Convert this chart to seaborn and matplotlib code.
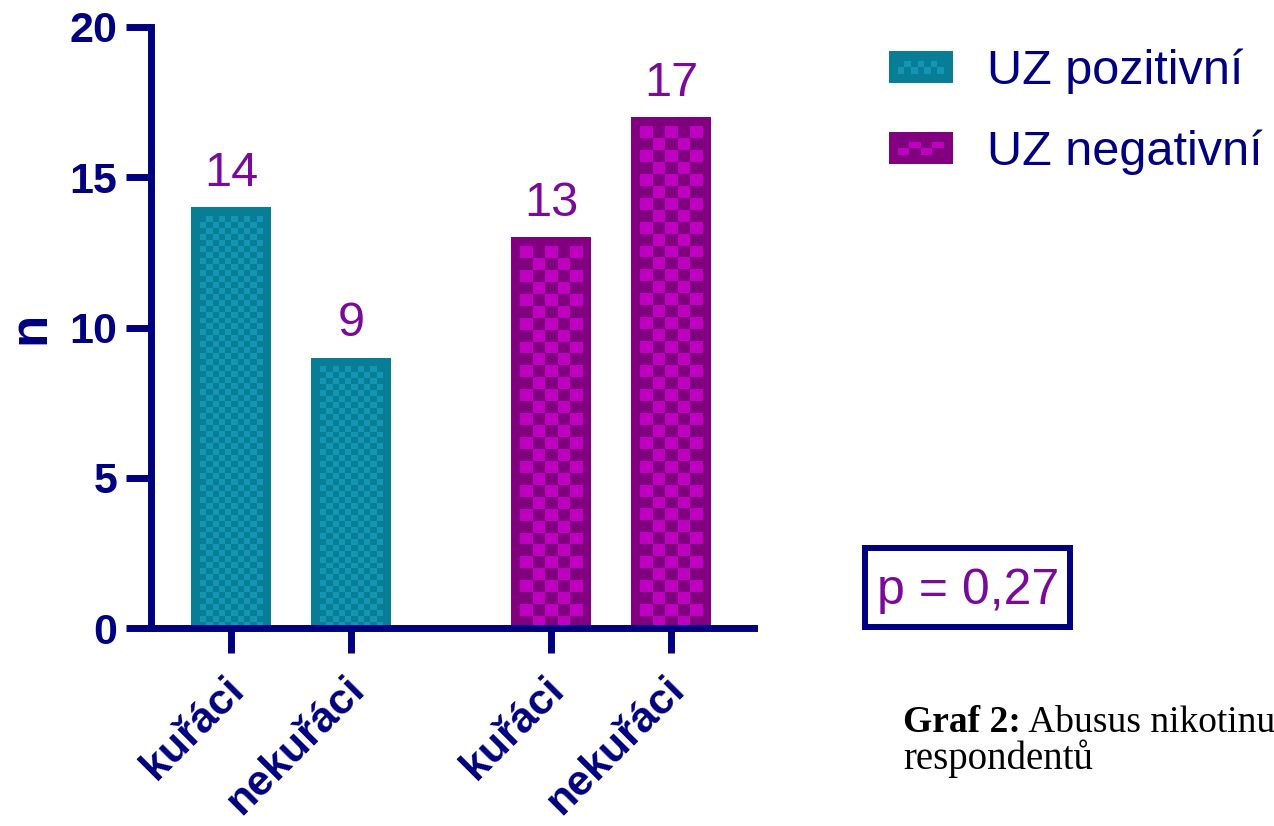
import matplotlib
matplotlib.use("Agg")
import matplotlib.pyplot as plt
from matplotlib.colors import ListedColormap
from matplotlib.legend_handler import HandlerBase
from matplotlib.patches import Patch, Rectangle
from matplotlib.transforms import ScaledTranslation
import numpy as np
import pandas as pd
import seaborn as sns

# --- data -----------------------------------------------------------------
groups = ["UZ pozitivní", "UZ pozitivní", "UZ negativní", "UZ negativní"]
smoking = ["kuřáci", "nekuřáci", "kuřáci", "nekuřáci"]
counts = [14, 9, 13, 17]
group_order = ["UZ pozitivní", "UZ negativní"]
smoking_order = ["kuřáci", "nekuřáci"]
y_ticks = [0, 5, 10, 15, 20]
p_text = "p = 0,27"
caption_bold = "Graf 2:"
caption_rest = " Abusus nikotinu"
caption_line2 = "respondentů"

# --- style ----------------------------------------------------------------
NAVY = "#000080"
LABEL_PURPLE = "#7A0A9A"
DARK = {"UZ pozitivní": "#087D96", "UZ negativní": "#800080"}
LIGHT = {"UZ pozitivní": "#1296B4", "UZ negativní": "#C000C0"}
CELL_PX = {"UZ pozitivní": 6, "UZ negativní": 12}   # checker square size
LEGEND_COLS = {"UZ pozitivní": 7, "UZ negativní": 4}
FRAME_PX = 9                                        # dark frame inside bars
W, H = 1274, 826


def fx(px):
    return px / W


def fy(py):
    return 1 - py / H


class CheckerHandler(HandlerBase):
    """Legend key: dark block with a two-row checker strip inside."""

    def __init__(self, dark, light, ncol):
        super().__init__()
        self.dark, self.light, self.ncol = dark, light, ncol

    def create_artists(self, legend, orig_handle, xdescent, ydescent,
                       width, height, fontsize, trans):
        x0, y0 = -xdescent, -ydescent
        arts = [Rectangle((x0, y0), width, height, facecolor=self.dark,
                          edgecolor="none", transform=trans)]
        ix0, ix1 = x0 + 0.14 * width, x0 + 0.86 * width
        iy0, iy1 = y0 + 0.28 * height, y0 + 0.69 * height
        cw = (ix1 - ix0) / self.ncol
        ch = (iy1 - iy0) / 2
        for r in range(2):
            for c in range(self.ncol):
                if (r + c) % 2 == 0:
                    arts.append(Rectangle((ix0 + c * cw, iy0 + r * ch), cw, ch,
                                          facecolor=self.light, edgecolor="none",
                                          transform=trans))
        return arts


sns.set_style("ticks")
plt.rcParams["font.family"] = ["Liberation Sans", "DejaVu Sans"]

df = pd.DataFrame({"group": groups, "smoking": smoking, "n": counts})
# second pair of bars sits further right to open a gap between groups
GROUP_STEP = 8 / 3
df["pos"] = [group_order.index(g) * GROUP_STEP + smoking_order.index(s)
             for g, s in zip(df["group"], df["smoking"])]

fig = plt.figure(figsize=(W / 100, H / 100), dpi=100)
ax = fig.add_axes([fx(150.5), fy(628), fx(754) - fx(150.5), fy(27) - fy(628)])

sns.barplot(data=df, x="pos", y="n", hue="group", hue_order=group_order,
            palette=DARK, native_scale=True, dodge=False, width=2 / 3,
            saturation=1, linewidth=0, errorbar=None, legend=False, ax=ax)

XLIM = (-0.671, 4.358)
ax.set_xlim(*XLIM)
ax.set_ylim(0, 20)

# Checkerboard fill inside each bar, leaving a dark frame around it.
for grp, container in zip(group_order, ax.containers):
    cmap = ListedColormap([DARK[grp], LIGHT[grp]])
    for patch in container:
        x0, w, h = patch.get_x(), patch.get_width(), patch.get_height()
        (px0, py0), (px1, py1) = ax.transData.transform([(x0, 0), (x0 + w, h)])
        ix0, ix1 = px0 + FRAME_PX, px1 - FRAME_PX
        iy0, iy1 = py0, py1 - FRAME_PX
        ncol = max(1, round((ix1 - ix0) / CELL_PX[grp]))
        nrow = max(1, round((iy1 - iy0) / CELL_PX[grp]))
        checker = np.indices((nrow, ncol)).sum(axis=0) % 2
        inv = ax.transData.inverted()
        (dx0, dy0), (dx1, dy1) = inv.transform([(ix0, iy0), (ix1, iy1)])
        ax.imshow(checker, cmap=cmap, vmin=0, vmax=1, origin="lower",
                  extent=(dx0, dx1, dy0, dy1), aspect="auto",
                  interpolation="nearest", zorder=patch.get_zorder() + 0.1)
    ax.bar_label(container, padding=8, fontsize=35, color=LABEL_PURPLE)

ax.set_xlim(*XLIM)
ax.set_ylim(0, 20)

# --- axes styling -----------------------------------------------------------
sns.despine(ax=ax)
for side in ("left", "bottom"):
    ax.spines[side].set_color(NAVY)
    ax.spines[side].set_linewidth(5)
ax.spines["bottom"].set_zorder(5)

ax.set_yticks(y_ticks)
ax.set_xticks(df["pos"])
ax.set_xticklabels(df["smoking"])
ax.tick_params(width=5, length=18, color=NAVY, labelcolor=NAVY, labelsize=31)
ax.tick_params(axis="y", pad=6)
ax.tick_params(axis="x", pad=22)
for lbl in ax.get_yticklabels():
    lbl.set_fontweight("bold")
shift = ScaledTranslation(5 / 72, 0, fig.dpi_scale_trans)
for lbl in ax.get_xticklabels():
    lbl.set_fontweight("bold")
    lbl.set_rotation(45)
    lbl.set_ha("right")
    lbl.set_va("center")
    lbl.set_rotation_mode("anchor")
    lbl.set_transform(lbl.get_transform() + shift)

ax.set_xlabel("")
ax.set_ylabel("n", fontsize=38, fontweight="bold", color=NAVY)
ax.yaxis.set_label_coords((55 - 150.5) / (754 - 150.5), 0.5)

# --- legend ---------------------------------------------------------------
handles = [Patch(facecolor=DARK[g]) for g in group_order]
handler_map = {h: CheckerHandler(DARK[g], LIGHT[g], LEGEND_COLS[g])
               for h, g in zip(handles, group_order)}
ax.legend(handles, group_order, handler_map=handler_map, loc="upper left",
          bbox_to_anchor=(fx(889), fy(48.5)), bbox_transform=fig.transFigure,
          frameon=False, fontsize=35, labelcolor=NAVY,
          borderpad=0, borderaxespad=0, handlelength=1.31,
          handleheight=0.66, handletextpad=0.71, labelspacing=0.73)

# --- p-value box ------------------------------------------------------------
fig.add_artist(Rectangle((fx(865), fy(627)), fx(1070) - fx(865), fy(548) - fy(627),
                         transform=fig.transFigure, fill=False,
                         edgecolor=NAVY, linewidth=4.3))
fig.text(fx(968), fy(604), p_text, ha="center", va="baseline",
         fontsize=36, color=LABEL_PURPLE)

# --- caption ----------------------------------------------------------------
serif = ["Liberation Serif", "DejaVu Serif"]
t1 = fig.text(fx(903), fy(732), caption_bold, family=serif, fontweight="bold",
              fontsize=27, va="baseline", color="black")
ax.annotate(caption_rest, xy=(1, 0), xycoords=t1, va="bottom", ha="left",
            family=serif, fontsize=27, color="black", annotation_clip=False)
fig.text(fx(903), fy(769), caption_line2, family=serif, fontsize=28,
         va="baseline", color="black")

fig.savefig("out.png", dpi=100)
